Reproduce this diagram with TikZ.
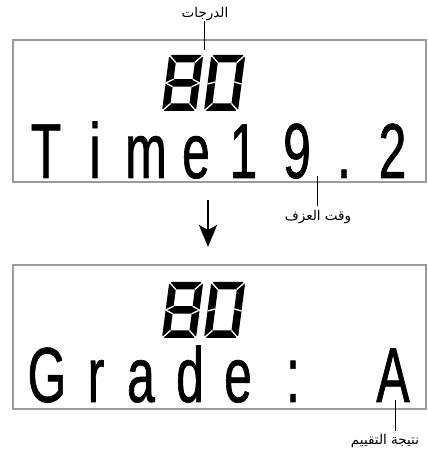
\documentclass[tikz,border=0pt]{standalone}
\usepackage{fontspec}
\usetikzlibrary{arrows.meta}
\TeXXeTstate=1
\newfontfamily\arabicfont[Script=Arabic]{DejaVu Sans}
\newfontfamily\lcdfont[FakeStretch=0.64,FakeBold=0.8]{Liberation Sans}
\definecolor{lcdgray}{RGB}{155,155,155}
\tikzset{
  lcdbox/.style={draw=lcdgray, line width=2pt, inner sep=0pt, minimum width=413pt},
  leader/.style={line width=0.9pt},
  lbl/.style={font=\arabicfont\fontsize{13.5}{15}\selectfont, inner sep=0pt},
  lcdchar/.style={font=\lcdfont\fontsize{78}{78}\selectfont, inner sep=0pt, anchor=base},
  gap/.style={white, line width=1.3pt},
  segeight/.pic={
    \begin{scope}[xslant=0.13]
      \fill[even odd rule] (2.5,0)--(31.5,0)--(34,2.5)--(34,53.5)--(31.5,56)--(2.5,56)--(0,53.5)--(0,2.5)--cycle
        (7.5,7.5) rectangle (26.5,24.25) (7.5,31.75) rectangle (26.5,48.5);
      \draw[gap] (0,0)--(7.5,7.5) (34,0)--(26.5,7.5) (34,56)--(26.5,48.5) (0,56)--(7.5,48.5)
        (0,28)--(7.5,31.75) (0,28)--(7.5,24.25) (34,28)--(26.5,31.75) (34,28)--(26.5,24.25);
    \end{scope}
  },
  segzero/.pic={
    \begin{scope}[xslant=0.13]
      \fill[even odd rule] (2.5,0)--(31.5,0)--(34,2.5)--(34,53.5)--(31.5,56)--(2.5,56)--(0,53.5)--(0,2.5)--cycle
        (7.5,7.5) rectangle (26.5,48.5);
      \draw[gap] (0,0)--(7.5,7.5) (34,0)--(26.5,7.5) (34,56)--(26.5,48.5) (0,56)--(7.5,48.5)
        (0,27)--(7.5,29) (34,27)--(26.5,29);
    \end{scope}
  }
}
\begin{document}
\begin{tikzpicture}[x=1pt,y=1pt]
\useasboundingbox (0,0) rectangle (428,456);
% boxes
\node[lcdbox, minimum height=142pt] (box1) at (219.5,345) {};
\node[lcdbox, minimum height=144pt] (box2) at (219.5,119) {};
% seven-segment digits
\pic at (162,345) {segeight};
\pic at (204,345) {segzero};
\pic at (162,118) {segeight};
\pic at (204,118) {segzero};
% row 1 text
\node[lcdchar] (t1) at (46,278) {T};
\node[lcdchar] (t2) at (95,278) {i};
\node[lcdchar] (t3) at (146,278) {m};
\node[lcdchar] (t4) at (196,278) {e};
\node[lcdchar] (t5) at (243.4,278) {1};
\node[lcdchar] (t6) at (297,278) {9};
\node[lcdchar] (t7) at (344,278) {.};
\node[lcdchar] (t8) at (392.5,278) {2};
% row 2 text
\node[lcdchar] (g1) at (47,54) {G};
\node[lcdchar] (g2) at (96,54) {r};
\node[lcdchar] (g3) at (141,54) {a};
\node[lcdchar] (g4) at (190,54) {d};
\node[lcdchar] (g5) at (238,54) {e};
\node[lcdchar] (g6) at (293,54) {:};
\node[lcdchar] (g8) at (393,54) {A};
% labels
\node[lbl] (lab1) at (205,442) {\beginR الدرجات\endR};
\node[lbl] (lab2) at (318,239) {\beginR وقت العزف\endR};
\node[lbl] (lab3) at (385,15) {\beginR نتيجة التقييم\endR};
% leaders
\coordinate (c1) at (204,406);
\coordinate (c2) at (317,280);
\coordinate (c3) at (395,56);
\draw[leader] (lab1.south -| c1) -- (c1);
\draw[leader] (c2) -- ([yshift=4pt]lab2.north -| c2);
\draw[leader] (c3) -- ([yshift=3pt]lab3.north -| c3);
% arrow
\coordinate (ar1) at (208,256);
\coordinate (ar2) at (208,209);
\draw[line width=2.5pt, -{Stealth[length=22pt,width=18pt,inset=5pt]}] (ar1) -- (ar2);
\end{tikzpicture}
\end{document}
